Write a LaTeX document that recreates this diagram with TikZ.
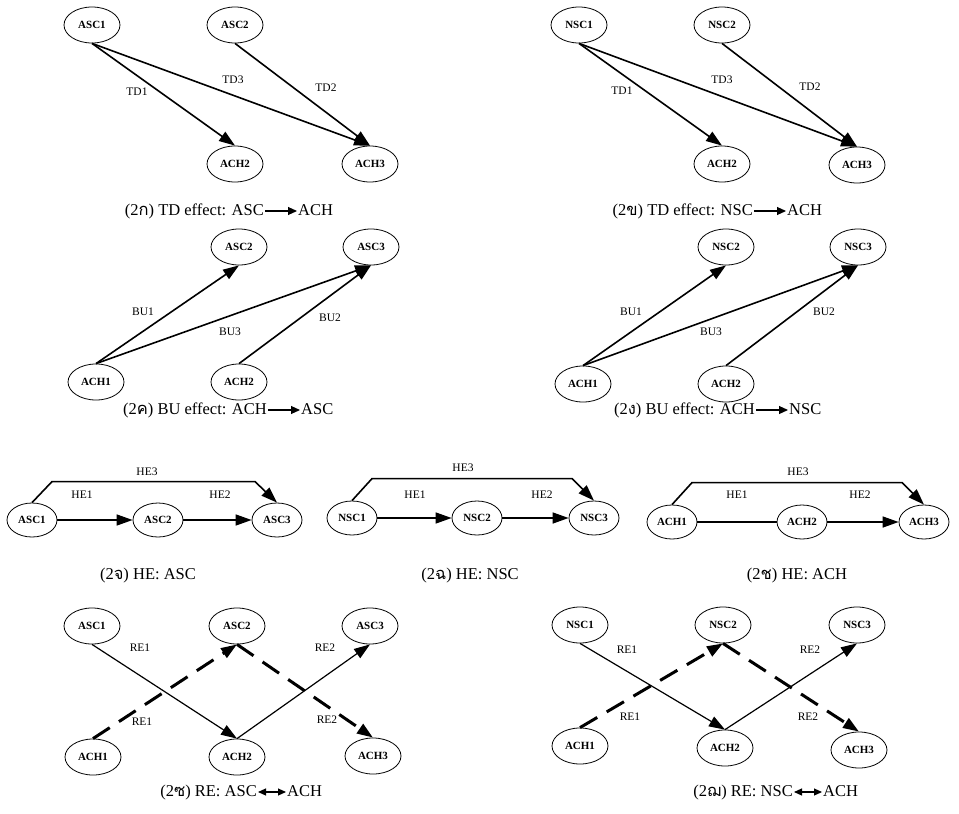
\documentclass[tikz,border=0pt]{standalone}
\usepackage{fontspec}
\setmainfont{Liberation Serif}
\newfontfamily\thaifont[Script=Thai]{Loma}
\usetikzlibrary{arrows.meta,shapes.geometric}
\begin{document}
\begin{tikzpicture}[x=1pt,y=-1pt,
  ndbox/.style={draw, ellipse, line width=0.8pt, minimum width=56pt, minimum height=36pt, inner sep=0pt, font=\fontsize{11}{12}\selectfont\bfseries},
  hndbox/.style={ndbox, minimum width=50pt, minimum height=34pt},
  edgelbl/.style={font=\fontsize{11.5}{12}\selectfont, inner sep=0pt},
  captxt/.style={font=\fontsize{16.5}{18}\selectfont, inner sep=0pt, text height=12pt, text depth=3.5pt},
  caparrow/.style={-{Triangle[length=9pt,width=8pt]}, line width=1.1pt, shorten <=1pt, shorten >=1pt},
  capdarrow/.style={{Triangle[length=8pt,width=7pt]}-{Triangle[length=8pt,width=7pt]}, line width=1.1pt, shorten <=1pt, shorten >=1pt},
  arrtip/.style={-{Triangle[length=16pt,width=11pt]}},
  edgeln/.style={arrtip, line width=1.6pt},
  thinedge/.style={arrtip, line width=1.2pt},
  dashedge/.style={arrtip, line width=3pt, dash pattern=on 20pt off 11pt},
  plainln/.style={line width=1.6pt}]
\useasboundingbox (0,0) rectangle (959,814);

% ---------- Panel 2a: TD ASC -> ACH
\node[ndbox] (a1) at (92,25) {ASC1};
\node[ndbox] (a2) at (235,25) {ASC2};
\node[ndbox] (a3) at (235,164) {ACH2};
\node[ndbox] (a4) at (370,164) {ACH3};
\draw[edgeln] (a1.south) -- (a3.north);
\draw[edgeln] (a1.south) -- (a4.north);
\draw[edgeln] (a2.south) -- (a4.north);
\node[edgelbl] (a5) at (137,92) {TD1};
\node[edgelbl] (a6) at (233,80) {TD3};
\node[edgelbl] (a7) at (326,88) {TD2};
\coordinate (a8c) at (281,211);
\node[captxt, anchor=east] (a8l) at ([xshift=-17]a8c) {(2{\thaifont ก}) TD effect: ASC};
\node[captxt, anchor=west] (a8r) at ([xshift=17]a8c) {ACH};
\draw[caparrow] (a8l) -- (a8r);

% ---------- Panel 2b: TD NSC -> ACH
\node[ndbox] (b1) at (579,25) {NSC1};
\node[ndbox] (b2) at (722,25) {NSC2};
\node[ndbox] (b3) at (722,164) {ACH2};
\node[ndbox] (b4) at (857,165) {ACH3};
\draw[edgeln] (b1.south) -- (b3.north);
\draw[edgeln] (b1.south) -- (b4.north);
\draw[edgeln] (b2.south) -- (b4.north);
\node[edgelbl] (b5) at (622,91) {TD1};
\node[edgelbl] (b6) at (722,80) {TD3};
\node[edgelbl] (b7) at (810,87) {TD2};
\coordinate (b8c) at (770,211);
\node[captxt, anchor=east] (b8l) at ([xshift=-17]b8c) {(2{\thaifont ข}) TD effect: NSC};
\node[captxt, anchor=west] (b8r) at ([xshift=17]b8c) {ACH};
\draw[caparrow] (b8l) -- (b8r);

% ---------- Panel 2c: BU ACH -> ASC
\node[ndbox] (c1) at (239,247) {ASC2};
\node[ndbox] (c2) at (371,247) {ASC3};
\node[ndbox] (c3) at (96,382) {ACH1};
\node[ndbox] (c4) at (239,382) {ACH2};
\draw[edgeln] (c3.north) -- (c1.south);
\draw[edgeln] (c3.north) -- (c2.south);
\draw[edgeln] (c4.north) -- (c2.south);
\node[edgelbl] (c5) at (143,312) {BU1};
\node[edgelbl] (c6) at (230,332) {BU3};
\node[edgelbl] (c7) at (330,318) {BU2};
\coordinate (c8c) at (284,410);
\node[captxt, anchor=east] (c8l) at ([xshift=-17]c8c) {(2{\thaifont ค}) BU effect: ACH};
\node[captxt, anchor=west] (c8r) at ([xshift=17]c8c) {ASC};
\draw[caparrow] (c8l) -- (c8r);

% ---------- Panel 2d: BU ACH -> NSC
\node[ndbox] (d1) at (726,247) {NSC2};
\node[ndbox] (d2) at (858,247) {NSC3};
\node[ndbox] (d3) at (583,384) {ACH1};
\node[ndbox] (d4) at (726,384) {ACH2};
\draw[edgeln] (d3.north) -- (d1.south);
\draw[edgeln] (d3.north) -- (d2.south);
\draw[edgeln] (d4.north) -- (d2.south);
\node[edgelbl] (d5) at (631,312) {BU1};
\node[edgelbl] (d6) at (711,332) {BU3};
\node[edgelbl] (d7) at (824,312) {BU2};
\coordinate (d8c) at (772,410);
\node[captxt, anchor=east] (d8l) at ([xshift=-17]d8c) {(2{\thaifont ง}) BU effect: ACH};
\node[captxt, anchor=west] (d8r) at ([xshift=17]d8c) {NSC};
\draw[caparrow] (d8l) -- (d8r);

% ---------- Panel 2e: HE ASC
\node[hndbox] (e1) at (32,520) {ASC1};
\node[hndbox] (e2) at (158,520) {ASC2};
\node[hndbox] (e3) at (277,520) {ASC3};
\draw[edgeln] (e1) -- (e2);
\draw[edgeln] (e2) -- (e3);
\draw[edgeln] (e1.north) -- ++(20,-21) -- ([shift={(-22,-21)}]e3.north) -- (e3.north);
\node[edgelbl] (e4) at (147,472) {HE3};
\node[edgelbl] (e5) at (82,495) {HE1};
\node[edgelbl] (e6) at (220,495) {HE2};
\node[captxt] (e7) at (148,575) {(2{\thaifont จ}) HE: ASC};

% ---------- Panel 2f: HE NSC
\node[hndbox] (f1) at (352,518) {NSC1};
\node[hndbox] (f2) at (477,518) {NSC2};
\node[hndbox] (f3) at (594,518) {NSC3};
\draw[edgeln] (f1) -- (f2);
\draw[edgeln] (f2) -- (f3);
\draw[edgeln] (f1.north) -- ++(20,-22) -- ([shift={(-22,-22)}]f3.north) -- (f3.north);
\node[edgelbl] (f4) at (463,468) {HE3};
\node[edgelbl] (f5) at (415,495) {HE1};
\node[edgelbl] (f6) at (542,495) {HE2};
\node[captxt] (f7) at (470,575) {(2{\thaifont ฉ}) HE: NSC};

% ---------- Panel 2g: HE ACH
\node[hndbox] (g1) at (672,522) {ACH1};
\node[hndbox] (g2) at (802,522) {ACH2};
\node[hndbox] (g3) at (924,522) {ACH3};
\draw[plainln] (g1) -- (g2);
\draw[edgeln] (g2) -- (g3);
\draw[edgeln] (g1.north) -- ++(20,-22) -- ([shift={(-22,-22)}]g3.north) -- (g3.north);
\node[edgelbl] (g4) at (798,472) {HE3};
\node[edgelbl] (g5) at (737,495) {HE1};
\node[edgelbl] (g6) at (860,495) {HE2};
\node[captxt] (g7) at (797,575) {(2{\thaifont ช}) HE: ACH};

% ---------- Panel 2h: RE ASC <-> ACH
\node[ndbox] (h1) at (92,626) {ASC1};
\node[ndbox] (h2) at (237,626) {ASC2};
\node[ndbox] (h3) at (370,626) {ASC3};
\node[ndbox] (h4) at (93,757) {ACH1};
\node[ndbox] (h5) at (237,757) {ACH2};
\node[ndbox] (h6) at (373,756) {ACH3};
\draw[thinedge] (h1.south) -- (h5.north);
\draw[thinedge] (h5.north) -- (h3.south);
\draw[dashedge] (h4.north) -- (h2.south);
\draw[dashedge] (h2.south) -- (h6.north);
\node[edgelbl] (h7) at (140,648) {RE1};
\node[edgelbl] (h8) at (142,722) {RE1};
\node[edgelbl] (h9) at (325,648) {RE2};
\node[edgelbl] (h10) at (327,720) {RE2};
\coordinate (h11c) at (272,792);
\node[captxt, anchor=east] (h11l) at ([xshift=-15]h11c) {(2{\thaifont ซ}) RE: ASC};
\node[captxt, anchor=west] (h11r) at ([xshift=15]h11c) {ACH};
\draw[capdarrow] (h11l) -- (h11r);

% ---------- Panel 2i: RE NSC <-> ACH
\node[ndbox] (i1) at (580,625) {NSC1};
\node[ndbox] (i2) at (723,625) {NSC2};
\node[ndbox] (i3) at (857,625) {NSC3};
\node[ndbox] (i4) at (580,746) {ACH1};
\node[ndbox] (i5) at (725,748) {ACH2};
\node[ndbox] (i6) at (859,750) {ACH3};
\draw[thinedge] (i1.south) -- (i5.north);
\draw[thinedge] (i5.north) -- (i3.south);
\draw[dashedge] (i4.north) -- (i2.south);
\draw[dashedge] (i2.south) -- (i6.north);
\node[edgelbl] (i7) at (627,650) {RE1};
\node[edgelbl] (i8) at (630,717) {RE1};
\node[edgelbl] (i9) at (810,650) {RE2};
\node[edgelbl] (i10) at (808,717) {RE2};
\coordinate (i11c) at (808,792);
\node[captxt, anchor=east] (i11l) at ([xshift=-15]i11c) {(2{\thaifont ฌ}) RE: NSC};
\node[captxt, anchor=west] (i11r) at ([xshift=15]i11c) {ACH};
\draw[capdarrow] (i11l) -- (i11r);
\end{tikzpicture}
\end{document}
